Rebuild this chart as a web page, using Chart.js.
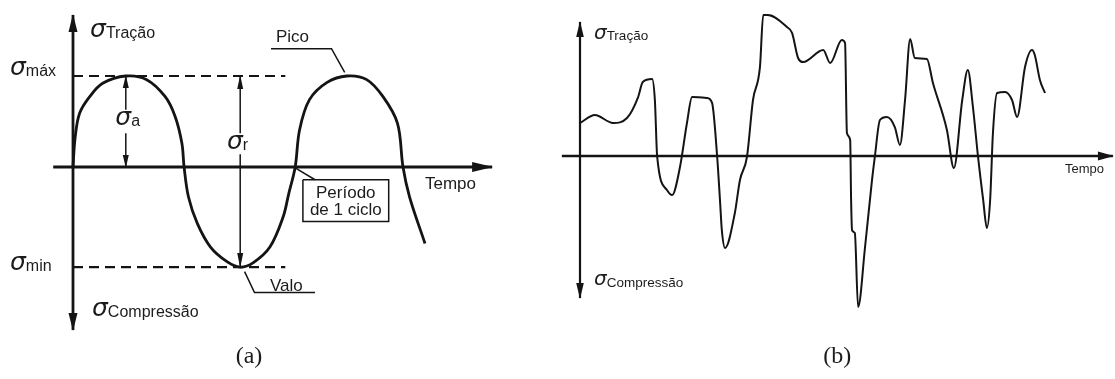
<!DOCTYPE html>
<html>
<head>
<meta charset="utf-8">
<script src="https://cdn.jsdelivr.net/npm/chart.js@4.4.1/dist/chart.umd.min.js"></script>
<style>
  html, body { margin: 0; padding: 0; background: #fff; }
  #wrap { position: relative; width: 1115px; height: 379px; overflow: hidden; }
  canvas { position: absolute; top: 0; }
  #chartA { left: 0; }
  #chartB { left: 545px; }
</style>
</head>
<body>
<div id="wrap">
  <canvas id="chartA" width="545" height="379"></canvas>
  <canvas id="chartB" width="570" height="379"></canvas>
</div>
<script>
// (a) constant amplitude cycle: time in half-cycles, stress in units of sigma_max
const cycleTime = [0, 0.02, 0.06, 0.15, 0.27, 0.48, 0.67, 0.84, 0.93, 0.99, 1.01, 1.05, 1.13, 1.25, 1.40, 1.52,
    1.64, 1.79, 1.91, 1.96, 2.02, 2.06, 2.15, 2.31, 2.49, 2.67, 2.82, 2.95, 3.00, 3.06, 3.20];
const cycleStress = [0, 0.33, 0.59, 0.77, 0.92, 1.00, 0.96, 0.77, 0.55, 0.26, 0, -0.33, -0.62, -0.88, -1.04, -1.10,
    -1.05, -0.88, -0.55, -0.30, 0, 0.41, 0.74, 0.93, 1.00, 0.96, 0.77, 0.48, 0, -0.33, -0.84];
const sigmaMax = 1.0;
const sigmaMin = -1.10;
const peakTime = 0.48;
const troughTime = 1.52;

// (b) random loading history
const randTime = [0, 0.32, 0.71, 1.01, 1.25, 1.35, 1.55, 1.61, 1.66, 1.87, 1.98, 2.15, 2.30, 2.41, 2.73, 2.84,
    2.95, 3.01, 3.05, 3.12, 3.33, 3.44, 3.59, 3.72, 3.87, 3.94, 4.04, 4.45, 4.56, 4.69, 4.80, 5.23, 5.38, 5.63,
    5.70, 5.74, 5.81, 5.83, 5.85, 5.91, 5.98, 6.13, 6.28, 6.34, 6.45, 6.60, 6.77, 6.88, 6.99, 7.10, 7.20, 7.46,
    7.59, 7.89, 8.04, 8.22, 8.34, 8.45, 8.56, 8.67, 8.75, 8.82, 8.88, 8.97, 9.14, 9.29, 9.40, 9.57, 9.72, 9.78,
    9.89, 10.0];
const randStress = [2.36, 2.93, 2.36, 2.71, 4.21, 5.29, 5.5, 4.0, -0.07, -2.43, -2.79, -0.79, 2.36, 4.21, 4.14,
    3.79, -0.07, -3.14, -5.29, -6.57, -4.07, -1.71, -0.07, 4.0, 6.36, 10.07, 10.07, 9.21, 8.79, 7.0, 6.71, 7.57,
    6.64, 8.29, 8.07, 1.64, 1.14, -3.14, -5.29, -5.5, -10.79, -6.5, -1.71, -0.07, 2.57, 2.79, 2.07, 0.79, 4.0,
    8.36, 7.0, 6.93, 5.21, 1.86, -0.86, 4.0, 6.14, 3.5, -0.07, -3.14, -5.14, -3.14, 1.64, 4.5, 4.57, 4.0, 2.79,
    6.36, 7.57, 7.21, 5.43, 4.5];

const INK = '#141414';
const pts = (xs, ys) => xs.map((x, i) => ({ x, y: ys[i] }));

function seg(data, extra) {
    return Object.assign({
        data: data,
        showLine: true,
        borderColor: INK,
        backgroundColor: INK,
        borderWidth: 1.5,
        pointRadius: 0,
        tension: 0,
        fill: false
    }, extra || {});
}

// arrow heads at the ends of flagged datasets
const arrowHeads = {
    id: 'arrowHeads',
    afterDatasetsDraw(chart) {
        const ctx = chart.ctx;
        chart.data.datasets.forEach((ds, i) => {
            if (!ds.arrow) return;
            const p = chart.getDatasetMeta(i).data;
            const [len, half] = ds.arrowSize || [12, 4];
            const head = (tip, from) => {
                const a = Math.atan2(tip.y - from.y, tip.x - from.x);
                const c = Math.cos(a), s = Math.sin(a);
                ctx.beginPath();
                ctx.moveTo(tip.x + c, tip.y + s);
                ctx.lineTo(tip.x - len * c - half * s, tip.y - len * s + half * c);
                ctx.lineTo(tip.x - len * c + half * s, tip.y - len * s - half * c);
                ctx.closePath();
                ctx.fill();
            };
            ctx.save();
            ctx.fillStyle = INK;
            if (ds.arrow === 'end' || ds.arrow === 'both') head(p[p.length - 1], p[p.length - 2]);
            if (ds.arrow === 'start' || ds.arrow === 'both') head(p[0], p[1]);
            ctx.restore();
        });
    }
};

function textPlugin(items, fonts) {
    return {
        id: 'labels',
        afterDraw(chart) {
            const { ctx, scales: { x, y } } = chart;
            ctx.save();
            ctx.fillStyle = '#1c1c1c';
            ctx.textBaseline = 'middle';
            items.forEach(it => {
                const px = x.getPixelForValue(it.t);
                const py = y.getPixelForValue(it.s);
                if (it.sub !== undefined) {
                    ctx.font = fonts.sigma;
                    ctx.textAlign = 'left';
                    ctx.fillText('σ', px, py);
                    const w = ctx.measureText('σ').width;
                    ctx.font = fonts.sub;
                    ctx.fillText(it.sub, px + w, py + fonts.drop);
                } else {
                    ctx.font = it.font || fonts.text;
                    ctx.textAlign = it.align || 'left';
                    ctx.fillText(it.text, px, py);
                }
            });
            ctx.restore();
        }
    };
}

function baseOptions(xmin, xmax, ymin, ymax) {
    return {
        responsive: false,
        animation: false,
        events: [],
        layout: { padding: 0 },
        plugins: { legend: { display: false }, tooltip: { enabled: false } },
        scales: {
            x: { type: 'linear', display: false, min: xmin, max: xmax },
            y: { type: 'linear', display: false, min: ymin, max: ymax }
        }
    };
}

// ---------- (a) ----------
const labelsA = [
    { t: 0.155, s: 1.50, sub: 'Tração' },
    { t: -0.573, s: 1.08, sub: 'máx' },
    { t: 0.385, s: 0.53, sub: 'a' },
    { t: 1.40, s: 0.27, sub: 'r' },
    { t: -0.573, s: -1.06, sub: 'min' },
    { t: 0.173, s: -1.57, sub: 'Compressão' },
    { t: 1.845, s: 1.42, text: 'Pico' },
    { t: 3.20, s: -0.19, text: 'Tempo' },
    { t: 1.79, s: -1.31, text: 'Valo' },
    { t: 2.48, s: -0.29, text: 'Período', align: 'center' },
    { t: 2.48, s: -0.48, text: 'de 1 ciclo', align: 'center' },
    { t: 1.60, s: -2.08, text: '(a)', align: 'center', font: '24px "Liberation Serif"' }
];

new Chart(document.getElementById('chartA'), {
    type: 'scatter',
    data: {
        datasets: [
            seg(pts(cycleTime, cycleStress), { borderWidth: 2.8, tension: 0.35 }),
            seg([{ x: -0.18, y: 0 }, { x: 3.81, y: 0 }], { borderWidth: 2.8, arrow: 'end', arrowSize: [20, 5] }),
            seg([{ x: 0, y: 1.67 }, { x: 0, y: -1.79 }], { borderWidth: 2.8, arrow: 'both', arrowSize: [17, 4.5] }),
            seg([{ x: 0, y: sigmaMax }, { x: 1.93, y: sigmaMax }], { borderWidth: 2.2, borderDash: [10, 6] }),
            seg([{ x: 0, y: sigmaMin }, { x: 1.93, y: sigmaMin }], { borderWidth: 2.2, borderDash: [10, 6] }),
            seg([{ x: peakTime, y: 0.63 }, { x: peakTime, y: sigmaMax }], { arrow: 'end', arrowSize: [12, 3] }),
            seg([{ x: peakTime, y: 0.37 }, { x: peakTime, y: 0 }], { arrow: 'end', arrowSize: [12, 3] }),
            seg([{ x: troughTime, y: 0.37 }, { x: troughTime, y: sigmaMax }], { arrow: 'end', arrowSize: [13, 3] }),
            seg([{ x: troughTime, y: 0.14 }, { x: troughTime, y: sigmaMin }], { arrow: 'end', arrowSize: [14, 3] }),
            seg([{ x: 1.80, y: 1.30 }, { x: 2.35, y: 1.30 }, { x: 2.47, y: 1.04 }]),
            seg([{ x: 1.56, y: -1.15 }, { x: 1.65, y: -1.38 }, { x: 2.20, y: -1.38 }]),
            seg([{ x: 2.02, y: -0.01 }, { x: 2.20, y: -0.14 }]),
            seg([{ x: 2.09, y: -0.14 }, { x: 2.87, y: -0.14 }, { x: 2.87, y: -0.60 }, { x: 2.09, y: -0.60 }, { x: 2.09, y: -0.14 }])
        ]
    },
    options: baseOptions(-0.6636, 4.2909, -2.3297, 1.8352),
    plugins: [arrowHeads, textPlugin(labelsA, {
        sigma: 'oblique 25px "DejaVu Sans"', sub: '16px "Liberation Sans"', drop: 3, text: '17px "Liberation Sans"'
    })]
});

// ---------- (b) ----------
const labelsB = [
    { t: 0.30, s: 8.75, sub: 'Tração' },
    { t: 0.30, s: -8.85, sub: 'Compressão' },
    { t: 10.43, s: -0.93, text: 'Tempo', font: '13px "Liberation Sans"' },
    { t: 5.53, s: -14.35, text: '(b)', align: 'center', font: '24px "Liberation Serif"' }
];

new Chart(document.getElementById('chartB'), {
    type: 'scatter',
    data: {
        datasets: [
            seg(pts(randTime, randStress), { borderWidth: 2, cubicInterpolationMode: 'monotone' }),
            seg([{ x: -0.39, y: 0 }, { x: 11.46, y: 0 }], { borderWidth: 2.4, arrow: 'end', arrowSize: [15, 4.5] }),
            seg([{ x: 0, y: 9.57 }, { x: 0, y: -10.14 }], { borderWidth: 2.2, arrow: 'both', arrowSize: [15, 3.8] })
        ]
    },
    options: baseOptions(-0.7527, 11.505, -15.93, 11.143),
    plugins: [arrowHeads, textPlugin(labelsB, {
        sigma: 'oblique 20px "DejaVu Sans"', sub: '13.5px "Liberation Sans"', drop: 3, text: '13px "Liberation Sans"'
    })]
});
</script>
</body>
</html>
